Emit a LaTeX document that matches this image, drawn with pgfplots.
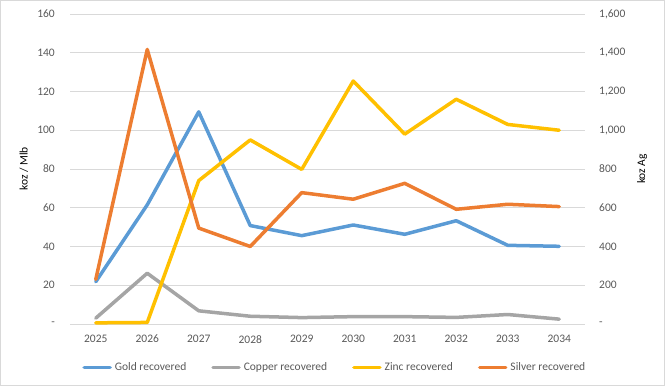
\documentclass[border=0pt]{standalone}
\usepackage{fontspec}
\setmainfont{Carlito}
\usepackage{pgfplots}
\pgfplotsset{compat=1.18}
\definecolor{cgold}{HTML}{5B9BD5}
\definecolor{ccopper}{HTML}{A5A5A5}
\definecolor{czinc}{HTML}{FFC000}
\definecolor{csilver}{HTML}{ED7D31}
\definecolor{cgrid}{HTML}{D9D9D9}
\definecolor{ctext}{HTML}{595959}
\begin{document}
\fontsize{11.5}{13}\selectfont
\begin{tikzpicture}
\path[use as bounding box, draw=cgrid, line width=0.8pt] (0.4pt,0.4pt) rectangle (664.6pt,385.6pt);
\pgfplotsset{
  common/.style={
    scale only axis, width=515pt, height=310pt,
    at={(70pt,62pt)}, anchor=south west,
    xmin=-0.5, xmax=9.5, clip=false,
    major tick length=0pt,
    axis line style={draw=none},
    tick label style={font=\fontsize{11.5}{13}\selectfont, text=ctext},
    label style={font=\fontsize{11.5}{13}\selectfont, text=ctext},
  },
  ser/.style={line width=3.5pt, line join=round, line cap=round},
}
\begin{axis}[common,
  ymin=0, ymax=160, ytick={0,20,...,160},
  yticklabels={-,20,40,60,80,100,120,140,160},
  ymajorgrids, grid style={cgrid, line width=0.8pt},
  axis x line*=bottom, axis y line*=left,
  xtick={0,...,9},
  xticklabels={2025,2026,2027,2028,2029,2030,2031,2032,2033,2034},
  xticklabel style={inner sep=0pt, anchor=north, yshift=-11pt},
  yticklabel style={inner sep=0pt, anchor=east, xshift=-15pt},
  ylabel={koz / Mlb},
  every axis y label/.style={at={(rel axis cs:0,0.5)}, xshift=-46pt, rotate=90, anchor=center},
]
\addplot[ser, cgold] coordinates {(0,21.8) (1,61.5) (2,109.5) (3,50.8) (4,45.6) (5,51.1) (6,46.3) (7,53.3) (8,40.6) (9,40.1)};
\addplot[ser, ccopper] coordinates {(0,3) (1,26.2) (2,6.8) (3,4) (4,3.3) (5,3.8) (6,3.8) (7,3.4) (8,4.9) (9,2.5)};
\addplot[ser, czinc] coordinates {(0,0.6) (1,0.8) (2,74) (3,95) (4,79.8) (5,125.4) (6,98) (7,116) (8,103) (9,100)};
\end{axis}
\begin{axis}[common,
  ymin=0, ymax=1600, ytick={0,200,...,1600},
  yticklabels={-,200,400,600,800,{1,000},{1,200},{1,400},{1,600}},
  axis x line=none, axis y line*=right,
  yticklabel style={inner sep=0pt, anchor=west, xshift=14pt},
  ylabel={koz Ag},
  every axis y label/.style={at={(rel axis cs:1,0.5)}, xshift=57pt, rotate=90, anchor=center},
  legend style={at={(0.488,-0.141)}, anchor=center, draw=none, fill=none,
    legend columns=4, font=\fontsize{11.5}{13}\selectfont, text=ctext,
    column sep=0pt,
    /tikz/every even column/.style={column sep=0pt},
    /tikz/every odd column/.style={column sep=0pt},
    nodes={inner xsep=0pt, inner ysep=1pt}},
  legend image code/.code={%
    \path (-24pt,0pt) (30pt,0pt);
    \draw[#1, line width=3.5pt, line cap=round] (1pt,0pt) -- (27pt,0pt);},
]
\addlegendimage{ser, cgold}\addlegendentry{Gold recovered}
\addlegendimage{ser, ccopper}\addlegendentry{Copper recovered}
\addlegendimage{ser, czinc}\addlegendentry{Zinc recovered}
\addplot[ser, csilver] coordinates {(0,230) (1,1417) (2,495) (3,400) (4,678) (5,644) (6,726) (7,592) (8,618) (9,606)};
\addlegendentry{Silver recovered}
\end{axis}
\end{tikzpicture}
\end{document}
